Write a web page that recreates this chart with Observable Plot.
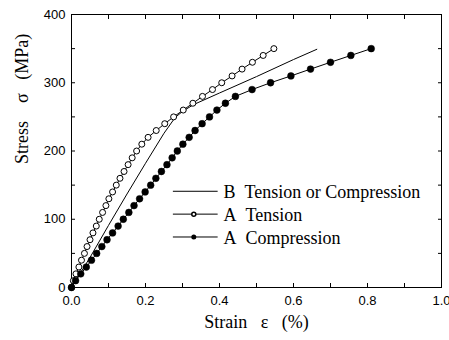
<!DOCTYPE html>
<html><head><meta charset="utf-8">
<script src="https://cdn.jsdelivr.net/npm/d3@7"></script>
<script src="https://cdn.jsdelivr.net/npm/@observablehq/plot@0.6"></script>
<style>body{margin:0;background:#fff}</style>
</head><body><div id="chart"></div>
<script>
// Data
const tensionStress = [0,10,20,30,40,50,60,70,80,90,100,110,120,130,140,150,160,170,180,190,200,210,220,230,240,250,260,270,280,290,300,310,320,330,340,350];
const tensionStrain = [0,0.005,0.012,0.020,0.027,0.035,0.042,0.050,0.058,0.067,0.075,0.084,0.093,0.101,0.111,0.121,0.131,0.142,0.153,0.164,0.176,0.190,0.207,0.229,0.252,0.276,0.302,0.328,0.354,0.381,0.406,0.434,0.461,0.489,0.518,0.547];

const compStress = [0,10,20,30,40,50,60,70,80,90,100,110,120,130,140,150,160,170,180,190,200,210,220,230,240,250,260,270,280,290,300,310,320,330,340,350];
const compStrain = [0,0.011,0.025,0.040,0.054,0.068,0.082,0.096,0.111,0.126,0.140,0.155,0.169,0.184,0.199,0.214,0.228,0.243,0.258,0.272,0.286,0.301,0.318,0.334,0.353,0.373,0.393,0.416,0.443,0.488,0.538,0.593,0.646,0.700,0.755,0.810];

const bStrain = [0,0.05,0.10,0.15,0.20,0.25,0.28,0.30,0.33,0.40,0.50,0.60,0.663];
const bStress = [0,44,91,137,182,226,249,258,268,285,309,334,349];

const xMajorTicks = [0,0.2,0.4,0.6,0.8,1.0];
const xTickLabels = ["0.0","0.2","0.4","0.6","0.8","1.0"];
const xMinorTicks = [0,0.1,0.2,0.3,0.4,0.5,0.6,0.7,0.8,0.9,1.0];
const yMajorTicks = [0,100,200,300,400];
const yTickLabels = ["0","100","200","300","400"];
const yMinorTicks = [0,50,100,150,200,250,300,350,400];

const legendLabels = ["B\u00a0\u00a0Tension or Compression","A\u00a0\u00a0Tension","A\u00a0\u00a0Compression"];
const legendMarkers = ["none","open","filled"];

const xTitle = "Strain\u00a0\u00a0\u00a0ε\u00a0\u00a0\u00a0(%)";
const yTitle = "Stress\u00a0\u00a0\u00a0\u00a0σ\u00a0\u00a0\u00a0(MPa)";

const tension = tensionStress.map((s,i)=>({stress:s, strain:tensionStrain[i]}));
const comp = compStress.map((s,i)=>({stress:s, strain:compStrain[i]}));
const bLine = bStress.map((s,i)=>({stress:s, strain:bStrain[i]}));

// legend layout (in data units of the plot)
const legX1 = 0.274, legX2 = 0.395, legMarkX = 0.3305, legTextX = 0.411, legY0 = 141, legStep = 33.5;
const legend = legendLabels.map((label,i)=>({label, marker: legendMarkers[i], y: legY0 - legStep*i}));

const serif = "Liberation Serif";

const chart = Plot.plot({
  width: 449, height: 340,
  marginLeft: 71, marginRight: 8, marginTop: 14, marginBottom: 53,
  x: {domain: [0,1], label: null},
  y: {domain: [0,400], label: null},
  style: {fontFamily: "Liberation Sans", fontSize: "13px", background: "white", color: "black", overflow: "visible"},
  marks: [
    Plot.frame({stroke: "black", strokeWidth: 1}),
    // inward ticks on all four sides
    Plot.axisX(xMinorTicks, {anchor: "bottom", tickSize: -4, tickFormat: () => "", label: null}),
    Plot.axisX(xMinorTicks, {anchor: "top", tickSize: -4, tickFormat: () => "", label: null}),
    Plot.axisY(yMinorTicks, {anchor: "left", tickSize: -4, tickFormat: () => "", label: null}),
    Plot.axisY(yMinorTicks, {anchor: "right", tickSize: -4, tickFormat: () => "", label: null}),
    // tick labels
    Plot.axisX(xMajorTicks, {anchor: "bottom", tickSize: 0, tickPadding: 8, tickFormat: (d) => xTickLabels[xMajorTicks.indexOf(d)], label: null}),
    Plot.axisY(yMajorTicks, {anchor: "left", tickSize: 0, tickPadding: 6, tickFormat: (d) => yTickLabels[yMajorTicks.indexOf(d)], label: null}),
    // curves
    Plot.line(bLine, {x: "strain", y: "stress", stroke: "black", strokeWidth: 1}),
    Plot.line(tension, {x: "strain", y: "stress", stroke: "black", strokeWidth: 1}),
    Plot.dot(tension, {x: "strain", y: "stress", r: 3, fill: "white", stroke: "black", strokeWidth: 1}),
    Plot.line(comp, {x: "strain", y: "stress", stroke: "black", strokeWidth: 1}),
    Plot.dot(comp, {x: "strain", y: "stress", r: 3.4, fill: "black", stroke: "black", strokeWidth: 0.5}),
    // legend
    Plot.link(legend, {x1: () => legX1, x2: () => legX2, y1: "y", y2: "y", stroke: "black", strokeWidth: 1}),
    Plot.dot(legend.filter(d => d.marker === "open"), {x: () => legMarkX, y: "y", r: 2, fill: "white", stroke: "black"}),
    Plot.dot(legend.filter(d => d.marker === "filled"), {x: () => legMarkX, y: "y", r: 2.5, fill: "black"}),
    Plot.text(legend, {x: () => legTextX, y: "y", text: "label", textAnchor: "start", fontFamily: serif, fontSize: 18, dy: 1}),
    // axis titles
    Plot.text([xTitle], {text: d => d, frameAnchor: "bottom", dy: 40, fontFamily: serif, fontSize: 18}),
    Plot.text([yTitle], {text: d => d, frameAnchor: "left", dx: -49, dy: 13, rotate: -90, fontFamily: serif, fontSize: 18})
  ]
});
document.getElementById("chart").appendChild(chart);
</script>
</body></html>
